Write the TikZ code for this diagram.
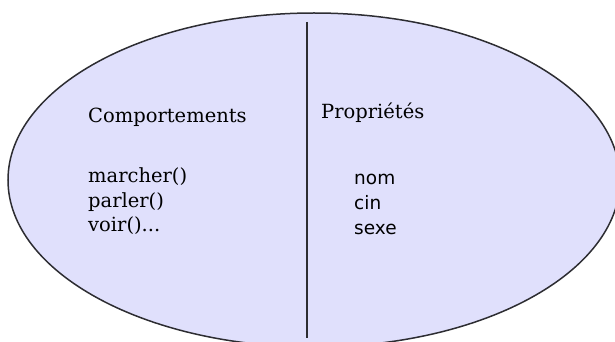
\documentclass[tikz,border=0pt]{standalone}
\usepackage{fontspec}
\setmainfont{DejaVu Serif}
\setsansfont{DejaVu Sans}
\usepackage{xcolor}
\definecolor{lavande}{RGB}{224,224,252}
\definecolor{trait}{RGB}{45,45,50}
\usepackage{tikz}

\begin{document}
\begin{tikzpicture}[x=1pt,y=-1pt,
  titre/.style={anchor=base west,inner sep=0pt,
                font=\fontsize{19.5}{24}\selectfont},
  methode/.style={anchor=base west,inner sep=0pt,
                  font=\fontsize{19.5}{24}\selectfont},
  attribut/.style={anchor=base west,inner sep=0pt,
                   font=\sffamily\fontsize{18.5}{24}\selectfont},
]
  \useasboundingbox (0,0) rectangle (615,342);
  \clip (0,0) rectangle (615,342);

  % l'objet
  \draw[trait,fill=lavande,line width=1.5pt] (314,180) ellipse [x radius=306,y radius=167];
  \draw[trait,line width=2pt] (307,22) -- (307,338);

  % partie gauche
  \node[titre](C) at (88,123) {Comportements};
  \node[methode](M) at (88,182) {marcher()};
  \node[methode](P) at (88,207) {parler()};
  \node[methode](V) at (88,231) {voir()...};

  % partie droite
  \node[titre](R) at (321,118) {Propriétés};
  \node[attribut](N) at (354,184) {nom};
  \node[attribut](I) at (354,209) {cin};
  \node[attribut](S) at (354,234) {sexe};
\end{tikzpicture}
\end{document}
